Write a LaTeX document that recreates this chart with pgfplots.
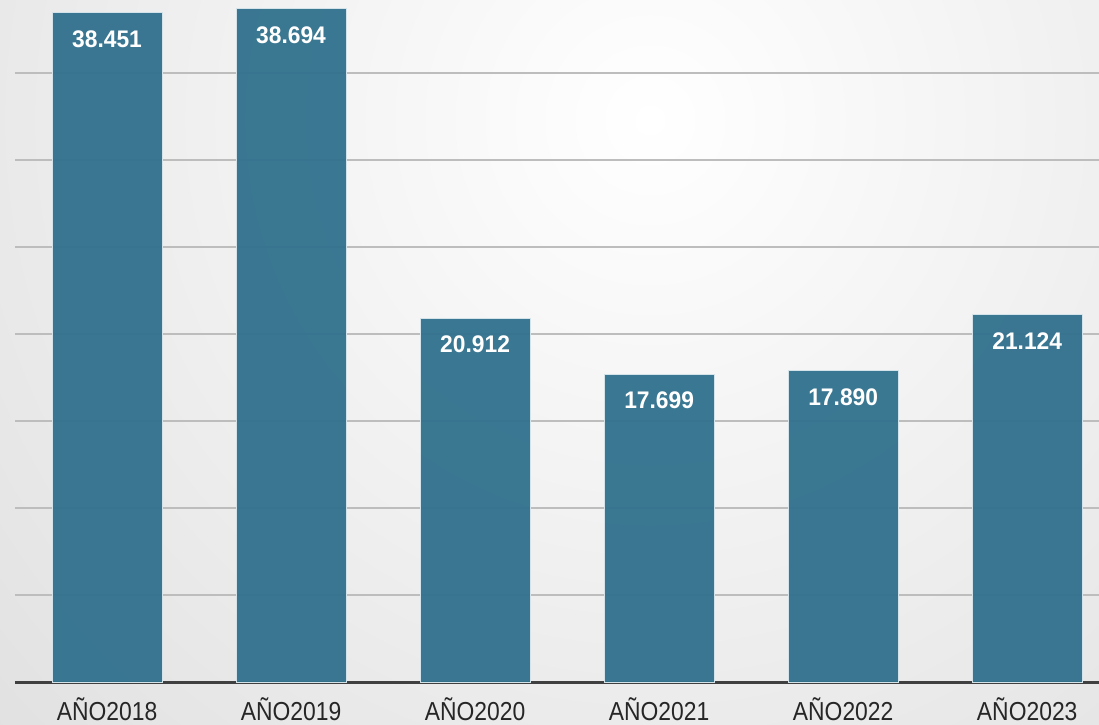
\documentclass[border=0pt]{standalone}
\usepackage{pgfplots}
\pgfplotsset{compat=1.18}
\usepackage{fontspec}
\setmainfont{Liberation Sans}
\definecolor{barc}{HTML}{33728E}
\definecolor{barline}{HTML}{D4E3EA}
\definecolor{gridc}{HTML}{BDBDBD}
\definecolor{basec}{HTML}{404040}
\begin{document}
\begin{tikzpicture}[x=1pt,y=1pt]
\begin{scope}
\clip (-7.5,-21) rectangle (542,341);
\shade[inner color=white, outer color=black!23] (317.5,281) circle (880);
\end{scope}
\useasboundingbox (-7.5,-21) rectangle (542,341);
\begin{axis}[
  at={(0,0)}, anchor=south west,
  width=542pt, height=341pt, scale only axis,
  xmin=-0.5, xmax=5.39, ymin=0, ymax=39195,
  separate axis lines,
  axis x line*=bottom, axis y line*=left,
  x axis line style={draw=basec, line width=1.5pt, -},
  y axis line style={draw=none},
  ytick={5000,10000,15000,20000,25000,30000,35000},
  yticklabels={},
  ytick style={draw=none},
  ymajorgrids,
  major grid style={draw=gridc, line width=0.7pt},
  xtick={0,1,2,3,4,5},
  xticklabels={AÑO2018,AÑO2019,AÑO2020,AÑO2021,AÑO2022,AÑO2023},
  xtick style={draw=none},
  xticklabel style={font=\fontsize{13}{15}\selectfont, text=black!85, inner sep=0pt, anchor=base, yshift=-19.5pt, xscale=0.88},
  clip=false,
]
\addplot[ybar, bar width=55pt, fill=barc, fill opacity=0.96, draw=barline, line width=0.5pt,
  point meta=explicit symbolic,
  nodes near coords,
  every node near coord/.append style={font=\bfseries\fontsize{12}{14}\selectfont, text=white, fill opacity=1, text opacity=1, anchor=north, inner sep=0pt, yshift=-8.8pt, xscale=0.95},
] coordinates {
  (0,38451) [38.451]
  (1,38694) [38.694]
  (2,20912) [20.912]
  (3,17699) [17.699]
  (4,17890) [17.890]
  (5,21124) [21.124]
};
\end{axis}
\end{tikzpicture}
\end{document}
